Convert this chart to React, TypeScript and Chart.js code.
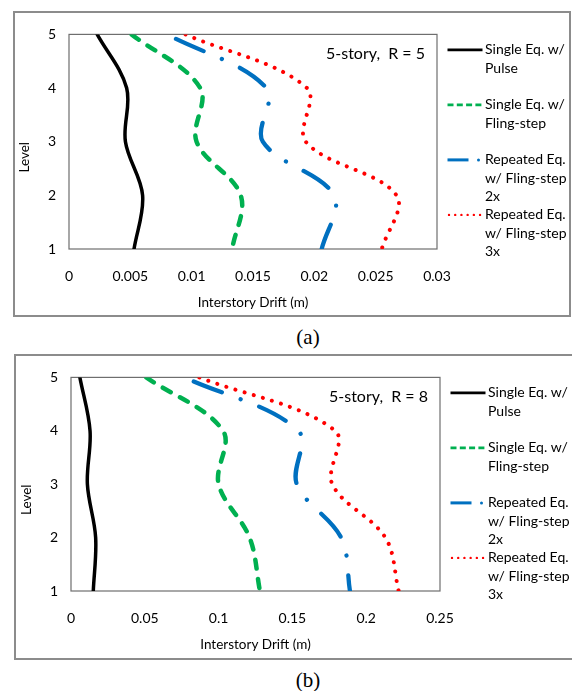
import React, { useEffect, useRef } from "react";
import { Chart, registerables } from "chart.js";
Chart.register(...registerables);

// ---------- data ----------
const LEVELS = [5, 4, 3, 2, 1];
const Y_TICK_LABELS = ["1", "2", "3", "4", "5"];

// (a) 5-story, R = 5
const A_PULSE = [0.0023, 0.0047, 0.0046, 0.006, 0.0053];
const A_FLING = [0.0051, 0.0107, 0.0104, 0.014, 0.0133];
const A_REP2X = [0.008, 0.0161, 0.0158, 0.0216, 0.0206];
const A_REP3X = [0.0095, 0.0194, 0.0193, 0.0267, 0.0255];
const A_X_TICKS = ["0", "0.005", "0.01", "0.015", "0.02", "0.025", "0.03"];

// (b) 5-story, R = 8
const B_PULSE = [0.006, 0.0129, 0.0111, 0.0167, 0.0151];
const B_FLING = [0.051, 0.103, 0.1, 0.121, 0.128];
const B_REP2X = [0.077, 0.154, 0.153, 0.183, 0.189];
const B_REP3X = [0.087, 0.179, 0.177, 0.213, 0.222];
const B_X_TICKS = ["0", "0.05", "0.1", "0.15", "0.2", "0.25"];

const SERIES_LABELS = [
  ["Single Eq. w/", "Pulse"],
  ["Single Eq. w/", "Fling-step"],
  ["Repeated Eq.", "w/ Fling-step", "2x"],
  ["Repeated Eq.", "w/ Fling-step", "3x"],
];
const X_TITLE = "Interstory Drift (m)";
const Y_TITLE = "Level";

const COLORS = ["#000000", "#00b050", "#0070c0", "#ff0000"];
const FONT = "Lato, 'Open Sans', sans-serif";

type PanelProps = {
  left: number;
  top: number;
  width: number;
  height: number;
  series: number[][];
  xMax: number;
  xStep: number;
  xTicks: string[];
  note: string;
  area: { left: number; top: number; right: number; bottom: number };
};

function makePoints(values: number[]) {
  return values.map((v, i) => ({ x: v, y: LEVELS[i] }));
}

function Panel(p: PanelProps) {
  const ref = useRef<HTMLCanvasElement | null>(null);
  const W = p.width - 4;
  const H = p.height - 4;

  useEffect(() => {
    const canvas = ref.current;
    if (!canvas) return;

    const styles = [
      { borderWidth: 3.5, borderDash: [] as number[], borderCapStyle: "round" },
      { borderWidth: 4.5, borderDash: [9, 10.5], borderCapStyle: "round" },
      { borderWidth: 4.3, borderDash: [30, 20, 0.01, 20], borderCapStyle: "round", borderDashOffset: -10 },
      { borderWidth: 4, borderDash: [0.01, 9.5], borderCapStyle: "round" },
    ];

    const decor = {
      id: "decor",
      beforeDatasetsDraw(chart: any) {
        const { ctx, chartArea: ca } = chart;
        ctx.save();
        ctx.strokeStyle = "#6e6e6e";
        ctx.lineWidth = 1.2;
        ctx.strokeRect(ca.left, ca.top, ca.right - ca.left, ca.bottom - ca.top);
        ctx.restore();
      },
      afterDraw(chart: any) {
        const { ctx, chartArea: ca } = chart;
        ctx.save();
        // note
        ctx.fillStyle = "#000";
        ctx.font = `16px ${FONT}`;
        ctx.textAlign = "right";
        ctx.textBaseline = "middle";
        ctx.fillText(p.note, ca.right - 12, ca.top + 19.5);
        // x title
        ctx.font = `13.5px ${FONT}`;
        ctx.textAlign = "center";
        ctx.fillText(X_TITLE, (ca.left + ca.right) / 2, ca.bottom + 53.5);
        // y title
        ctx.save();
        ctx.translate(ca.left - 44.5, (ca.top + ca.bottom) / 2 + 15.5);
        ctx.rotate(-Math.PI / 2);
        ctx.fillText(Y_TITLE, 0, 0);
        ctx.restore();
        // legend
        const x0 = ca.right + 10.5;
        const x1 = ca.right + 45.5;
        const tx = ca.right + 48;
        ctx.font = `14px ${FONT}`;
        ctx.textAlign = "left";
        chart.data.datasets.forEach((ds: any, i: number) => {
          const y = ca.top + 15.5 + i * 55;
          ctx.save();
          ctx.strokeStyle = ds.borderColor;
          ctx.beginPath();
          if (i === 0) {
            ctx.lineWidth = 2.7;
            ctx.moveTo(x0, y);
            ctx.lineTo(x1, y);
            ctx.stroke();
          } else if (i === 1) {
            ctx.lineWidth = 2.7;
            ctx.setLineDash([6, 3.3]);
            ctx.moveTo(x0, y);
            ctx.lineTo(x1, y);
            ctx.stroke();
          } else if (i === 2) {
            ctx.lineWidth = 3;
            ctx.moveTo(x0, y);
            ctx.lineTo(x0 + 21, y);
            ctx.stroke();
            ctx.fillStyle = ds.borderColor;
            ctx.beginPath();
            ctx.arc(x0 + 31, y, 1.5, 0, Math.PI * 2);
            ctx.fill();
          } else {
            ctx.lineWidth = 2.4;
            ctx.lineCap = "round";
            ctx.setLineDash([0.01, 6.2]);
            ctx.moveTo(x0 + 1.5, y);
            ctx.lineTo(x1, y);
            ctx.stroke();
          }
          ctx.restore();
          const lines: string[] = SERIES_LABELS[i];
          lines.forEach((t, k) => {
            ctx.fillStyle = "#000";
            ctx.fillText(t, tx, y + k * 18.5);
          });
        });
        ctx.restore();
      },
    };

    const chart = new Chart(canvas, {
      type: "line",
      data: {
        datasets: p.series.map((vals, i) => ({
          label: SERIES_LABELS[i].join(" "),
          data: makePoints(vals),
          borderColor: COLORS[i],
          backgroundColor: COLORS[i],
          pointRadius: 0,
          fill: false,
          tension: 0.35,
          borderJoinStyle: "round",
          ...(styles[i] as any),
        })),
      },
      options: {
        animation: false,
        responsive: false,
        events: [],
        layout: {
          padding: { left: 0, top: p.area.top, right: W - p.area.right, bottom: 0 },
        },
        plugins: {
          legend: { display: false },
          tooltip: { enabled: false },
        },
        scales: {
          x: {
            type: "linear",
            min: 0,
            max: p.xMax,
            grid: { display: false, drawTicks: false },
            border: { display: false },
            ticks: {
              stepSize: p.xStep,
              autoSkip: false,
              maxRotation: 0,
              padding: 19,
              color: "#000",
              font: { family: FONT, size: 14 },
              callback: (_v: any, i: number) => p.xTicks[i],
            },
            afterFit: (s: any) => {
              s.height = H - p.area.bottom;
            },
          },
          y: {
            type: "linear",
            min: 1,
            max: 5,
            grid: { display: false, drawTicks: false },
            border: { display: false },
            ticks: {
              stepSize: 1,
              padding: 13,
              color: "#000",
              font: { family: FONT, size: 14 },
              callback: (_v: any, i: number) => Y_TICK_LABELS[i],
            },
            afterFit: (s: any) => {
              s.width = p.area.left;
            },
          },
        },
      } as any,
      plugins: [decor],
    });
    return () => chart.destroy();
  }, []);

  return (
    <div
      style={{
        position: "absolute",
        left: p.left,
        top: p.top,
        width: p.width,
        height: p.height,
        border: "2px solid #8c8c8c",
        boxSizing: "border-box",
        background: "#fff",
      }}
    >
      <canvas ref={ref} width={W} height={H} style={{ display: "block", width: W, height: H }} />
    </div>
  );
}

export default function App() {
  return (
    <div
      style={{
        position: "absolute",
        left: 0,
        top: 0,
        width: 572,
        height: 691,
        overflow: "hidden",
        background: "#fff",
      }}
    >
      <Panel
        left={13}
        top={11}
        width={558}
        height={306}
        series={[A_PULSE, A_FLING, A_REP2X, A_REP3X]}
        xMax={0.03}
        xStep={0.005}
        xTicks={A_X_TICKS}
        note={"5-story,  R = 5"}
        area={{ left: 54, top: 11, right: 422, bottom: 236 }}
      />
      <div
        style={{
          position: "absolute",
          left: 258,
          width: 100,
          top: 324,
          textAlign: "center",
          fontFamily: "'Liberation Serif', serif",
          fontSize: 21,
          lineHeight: "26px",
        }}
      >
        (a)
      </div>
      <Panel
        left={14}
        top={354}
        width={562}
        height={306}
        series={[B_PULSE, B_FLING, B_REP2X, B_REP3X]}
        xMax={0.25}
        xStep={0.05}
        xTicks={B_X_TICKS}
        note={"5-story,  R = 8"}
        area={{ left: 55, top: 9, right: 424, bottom: 235 }}
      />
      <div
        style={{
          position: "absolute",
          left: 258,
          width: 100,
          top: 667,
          textAlign: "center",
          fontFamily: "'Liberation Serif', serif",
          fontSize: 21,
          lineHeight: "26px",
        }}
      >
        (b)
      </div>
    </div>
  );
}
